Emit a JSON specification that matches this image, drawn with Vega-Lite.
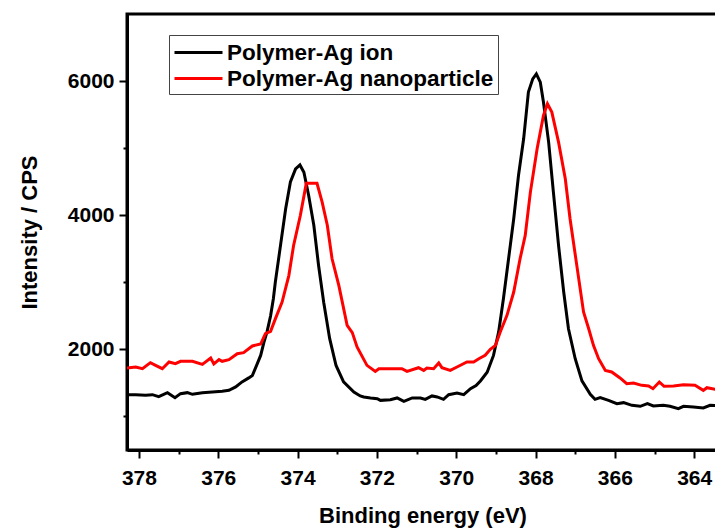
{
  "$schema": "https://vega.github.io/schema/vega-lite/v6.json",
  "autosize": {"type": "none"},
  "padding": {"left": 127, "top": 14, "right": 0, "bottom": 81},
  "width": 591,
  "height": 436,
  "datasets": {
    "ion": [{"e":378.3,"v":1325},{"e":378.08,"v":1325},{"e":377.83,"v":1315},{"e":377.66,"v":1325},{"e":377.5,"v":1295},{"e":377.28,"v":1355},{"e":377.09,"v":1280},{"e":376.95,"v":1340},{"e":376.78,"v":1355},{"e":376.65,"v":1330},{"e":376.4,"v":1355},{"e":376.15,"v":1365},{"e":375.9,"v":1375},{"e":375.73,"v":1390},{"e":375.56,"v":1440},{"e":375.4,"v":1515},{"e":375.23,"v":1575},{"e":375.14,"v":1610},{"e":375.02,"v":1780},{"e":374.93,"v":1910},{"e":374.85,"v":2100},{"e":374.77,"v":2260},{"e":374.68,"v":2500},{"e":374.61,"v":2755},{"e":374.56,"v":3005},{"e":374.43,"v":3550},{"e":374.3,"v":4095},{"e":374.18,"v":4495},{"e":374.05,"v":4690},{"e":373.94,"v":4750},{"e":373.84,"v":4640},{"e":373.72,"v":4295},{"e":373.59,"v":3850},{"e":373.47,"v":3250},{"e":373.34,"v":2700},{"e":373.19,"v":2160},{"e":373.03,"v":1760},{"e":372.84,"v":1515},{"e":372.58,"v":1365},{"e":372.42,"v":1306},{"e":372.33,"v":1290},{"e":372.16,"v":1276},{"e":371.99,"v":1265},{"e":371.91,"v":1240},{"e":371.66,"v":1250},{"e":371.49,"v":1276},{"e":371.32,"v":1225},{"e":371.11,"v":1276},{"e":370.9,"v":1276},{"e":370.78,"v":1255},{"e":370.61,"v":1306},{"e":370.48,"v":1291},{"e":370.32,"v":1255},{"e":370.19,"v":1325},{"e":369.98,"v":1350},{"e":369.81,"v":1325},{"e":369.64,"v":1414},{"e":369.5,"v":1460},{"e":369.39,"v":1530},{"e":369.22,"v":1660},{"e":369.06,"v":1910},{"e":368.93,"v":2260},{"e":368.81,"v":2755},{"e":368.68,"v":3351},{"e":368.55,"v":3947},{"e":368.43,"v":4592},{"e":368.3,"v":5139},{"e":368.18,"v":5835},{"e":368.07,"v":6033},{"e":367.98,"v":6107},{"e":367.88,"v":5983},{"e":367.8,"v":5685},{"e":367.67,"v":5090},{"e":367.55,"v":4345},{"e":367.42,"v":3550},{"e":367.29,"v":2855},{"e":367.17,"v":2308},{"e":367,"v":1861},{"e":366.83,"v":1530},{"e":366.62,"v":1330},{"e":366.5,"v":1255},{"e":366.37,"v":1280},{"e":366.16,"v":1240},{"e":365.95,"v":1191},{"e":365.78,"v":1206},{"e":365.57,"v":1166},{"e":365.36,"v":1151},{"e":365.18,"v":1191},{"e":365.03,"v":1157},{"e":364.78,"v":1166},{"e":364.61,"v":1151},{"e":364.4,"v":1116},{"e":364.27,"v":1151},{"e":364.02,"v":1141},{"e":363.77,"v":1127},{"e":363.6,"v":1166},{"e":363.4,"v":1160}],
    "nano": [{"e":378.3,"v":1723},{"e":378.08,"v":1738},{"e":377.91,"v":1712},{"e":377.71,"v":1802},{"e":377.58,"v":1762},{"e":377.41,"v":1712},{"e":377.24,"v":1812},{"e":377.08,"v":1787},{"e":376.95,"v":1822},{"e":376.65,"v":1822},{"e":376.4,"v":1777},{"e":376.19,"v":1872},{"e":376.11,"v":1782},{"e":375.98,"v":1847},{"e":375.9,"v":1822},{"e":375.73,"v":1847},{"e":375.52,"v":1936},{"e":375.36,"v":1951},{"e":375.14,"v":2051},{"e":374.93,"v":2080},{"e":374.81,"v":2234},{"e":374.68,"v":2270},{"e":374.56,"v":2455},{"e":374.39,"v":2705},{"e":374.22,"v":3100},{"e":374.1,"v":3550},{"e":373.93,"v":3995},{"e":373.78,"v":4475},{"e":373.51,"v":4475},{"e":373.38,"v":4195},{"e":373.25,"v":3850},{"e":373.13,"v":3350},{"e":372.96,"v":2955},{"e":372.75,"v":2358},{"e":372.62,"v":2250},{"e":372.5,"v":2036},{"e":372.25,"v":1762},{"e":372.04,"v":1672},{"e":371.95,"v":1712},{"e":371.66,"v":1712},{"e":371.37,"v":1712},{"e":371.24,"v":1672},{"e":370.95,"v":1727},{"e":370.82,"v":1687},{"e":370.74,"v":1723},{"e":370.57,"v":1712},{"e":370.44,"v":1797},{"e":370.36,"v":1727},{"e":370.15,"v":1687},{"e":369.98,"v":1737},{"e":369.73,"v":1812},{"e":369.56,"v":1812},{"e":369.43,"v":1861},{"e":369.27,"v":1911},{"e":369.14,"v":2000},{"e":369.01,"v":2060},{"e":368.89,"v":2259},{"e":368.72,"v":2507},{"e":368.55,"v":2855},{"e":368.39,"v":3351},{"e":368.26,"v":3699},{"e":368.13,"v":4345},{"e":367.96,"v":4990},{"e":367.8,"v":5487},{"e":367.7,"v":5661},{"e":367.59,"v":5537},{"e":367.42,"v":5090},{"e":367.25,"v":4543},{"e":367.13,"v":3947},{"e":366.96,"v":3252},{"e":366.79,"v":2557},{"e":366.66,"v":2308},{"e":366.54,"v":2060},{"e":366.41,"v":1861},{"e":366.24,"v":1687},{"e":366.08,"v":1663},{"e":365.87,"v":1574},{"e":365.7,"v":1489},{"e":365.53,"v":1499},{"e":365.32,"v":1464},{"e":365.15,"v":1455},{"e":365.04,"v":1414},{"e":364.88,"v":1514},{"e":364.76,"v":1449},{"e":364.52,"v":1455},{"e":364.27,"v":1474},{"e":363.98,"v":1464},{"e":363.77,"v":1389},{"e":363.68,"v":1429},{"e":363.47,"v":1404},{"e":363.4,"v":1404}]
  },
  "layer": [
    {
      "data": {"name": "ion"},
      "transform": [{"calculate": "'Polymer-Ag ion'", "as": "series"}],
      "mark": {"type": "line", "strokeWidth": 3, "clip": true},
      "encoding": {
        "x": {"field": "e", "type": "quantitative"},
        "y": {"field": "v", "type": "quantitative"},
        "color": {"field": "series", "type": "nominal"}
      }
    },
    {
      "data": {"name": "nano"},
      "transform": [{"calculate": "'Polymer-Ag nanoparticle'", "as": "series"}],
      "mark": {"type": "line", "strokeWidth": 3, "clip": true},
      "encoding": {
        "x": {"field": "e", "type": "quantitative",
          "scale": {"domain": [363.4, 378.3], "reverse": true, "nice": false, "zero": false},
          "axis": {"title": "Binding energy (eV)",
            "values": [378,377,376,375,374,373,372,371,370,369,368,367,366,365,364],
            "labelExpr": "datum.value % 2 === 0 ? datum.label : ''",
            "tickSize": {"condition": {"test": "datum.value % 2 === 0", "value": 8}, "value": 4},
            "labelPadding": 9, "titlePadding": 17}},
        "y": {"field": "v", "type": "quantitative",
          "scale": {"domain": [500, 7000], "nice": false, "zero": false},
          "axis": {"title": "Intensity / CPS",
            "values": [1000,2000,3000,4000,5000,6000],
            "labelExpr": "datum.value % 2000 === 0 ? datum.label : ''",
            "tickSize": {"condition": {"test": "datum.value % 2000 === 0", "value": 8}, "value": 4},
            "labelPadding": 5, "titlePadding": 26, "format": "d"}},
        "color": {"field": "series", "type": "nominal",
          "scale": {"domain": ["Polymer-Ag ion", "Polymer-Ag nanoparticle"], "range": ["#000000", "#ff0000"]},
          "legend": {"title": null}}
      }
    }
  ],
  "config": {
    "font": "Liberation Sans",
    "view": {"stroke": "#000000", "strokeWidth": 3},
    "axis": {
      "grid": false,
      "domainColor": "#000000", "domainWidth": 3,
      "tickColor": "#000000", "tickWidth": 2,
      "labelColor": "#000000", "labelFontSize": 21, "labelFontWeight": "bold", "labelFont": "Liberation Sans",
      "titleColor": "#000000", "titleFontSize": 22, "titleFontWeight": "bold", "titleFont": "Liberation Sans"
    },
    "legend": {
      "orient": "none", "legendX": 42, "legendY": 21,
      "strokeColor": "#444444", "fillColor": "#ffffff", "padding": 4,
      "symbolType": "M-2,0H2", "symbolSize": 576, "symbolStrokeWidth": 3, "symbolOffset": 12,
      "labelFontSize": 22.5, "labelFontWeight": "bold", "labelFont": "Liberation Sans", "labelColor": "#000000",
      "labelOffset": 15, "labelLimit": 0, "rowPadding": 1
    }
  }
}
